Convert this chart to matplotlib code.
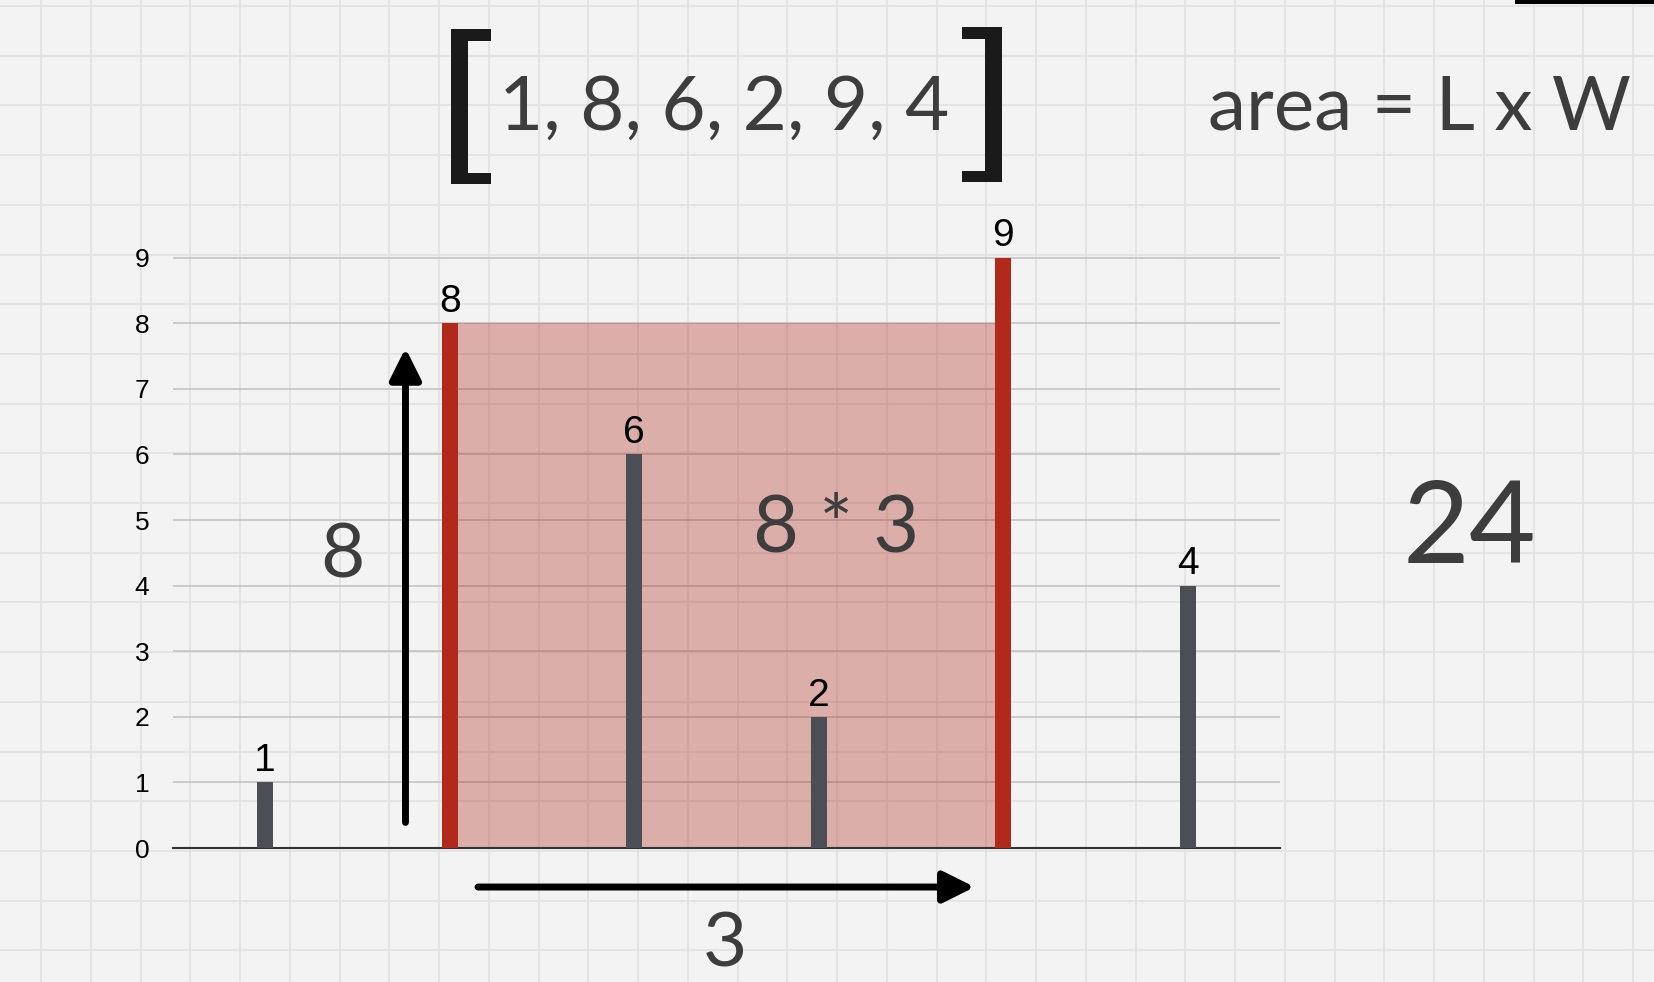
import numpy as np
import matplotlib.pyplot as plt
from matplotlib.patches import Rectangle, Polygon, FancyArrowPatch

# data
heights = [1, 8, 6, 2, 9, 4]
positions = list(range(len(heights)))
left_idx, right_idx = 1, 4
yticks = list(range(0, 10))

water = min(heights[left_idx], heights[right_idx])
span = right_idx - left_idx
area = water * span

# styles
bg = '#f3f3f3'
paper_line = '#e4e4e4'
red = '#b0291a'
gray = '#4b4e54'
soft = '#3d3d3d'
W, H = 1654, 982
big = dict(family=['Lato', 'DejaVu Sans'], fontweight='normal', color=soft)

plt.rcParams['font.family'] = ['Liberation Sans', 'DejaVu Sans']

fig = plt.figure(figsize=(W / 100, H / 100), dpi=100, facecolor=bg)

# squared paper background (pixel coords)
bgax = fig.add_axes([0, 0, 1, 1])
bgax.set_xlim(0, W)
bgax.set_ylim(H, 0)
bgax.axis('off')
for x in np.arange(41, W, 49.75):
    bgax.axvline(x, color=paper_line, lw=1.5, zorder=0)
for y in np.arange(6, H, 49.7):
    bgax.axhline(y, color=paper_line, lw=1.5, zorder=0)
bgax.add_patch(Rectangle((1515, 0), W - 1515, 4, color='black', lw=0))

# big brackets round the list
lb = [(451, 29), (491, 29), (491, 41), (468, 41), (468, 173), (491, 173), (491, 184), (451, 184)]
rb = [(1002, 27), (962, 27), (962, 39), (985, 39), (985, 171), (962, 171), (962, 182), (1002, 182)]
for pts in (lb, rb):
    bgax.add_patch(Polygon(pts, closed=True, color='#1a1a1a', lw=0))

fig.text(724 / W, 1 - 130 / H, ', '.join(str(h) for h in heights), fontsize=55,
         ha='center', va='baseline', **big)
fig.text(1208 / W, 1 - 130 / H, 'area = L x W', fontsize=55,
         ha='left', va='baseline', **big)
fig.text(1470 / W, 1 - 563 / H, str(area), fontsize=83,
         ha='center', va='baseline', **big)

# main chart
ax = fig.add_axes([173 / W, 134 / H, 1107 / W, 656 / H])
ax.set_facecolor('none')
ax.set_xlim(-0.5, 5.5)
ax.set_ylim(0, 10)
ax.set_yticks(yticks)
ax.yaxis.grid(True, color='#c4c4c4', lw=1.2)
ax.set_axisbelow(True)
for s in ['top', 'right', 'left']:
    ax.spines[s].set_visible(False)
ax.spines['bottom'].set_color('#333333')
ax.spines['bottom'].set_linewidth(1.5)
ax.tick_params(axis='y', length=0, pad=17, labelsize=19, labelcolor='black')
ax.tick_params(axis='x', length=0, labelbottom=False)

# container area
ax.add_patch(Rectangle((left_idx, 0), span, water, color=red, alpha=0.34, lw=0, zorder=1.5))

colors = [red if i in (left_idx, right_idx) else gray for i in positions]
ax.bar(positions, heights, width=0.088, color=colors, zorder=3)
for x, h in zip(positions, heights):
    ax.annotate(str(h), (x, h), xytext=(0, 8), textcoords='offset points',
                ha='center', va='baseline', fontsize=28, color='black')

# arrows for L and W
arrow_kw = dict(arrowstyle='-|>,head_length=19,head_width=9.5', mutation_scale=1,
                lw=5, color='black', shrinkA=0, shrinkB=0, clip_on=False, zorder=4)
ax.add_patch(FancyArrowPatch((0.76, 0.39), (0.76, 7.62), **arrow_kw))
ax.add_patch(FancyArrowPatch((1.153, -0.595), (3.845, -0.595), **arrow_kw))

ax.text(0.421, 4.13, str(water), fontsize=55, ha='center', va='baseline', **big)
ax.text(3.093, 4.52, f'{water} * {span}', fontsize=57, ha='center', va='baseline',
        zorder=5, **big)
ax.text(2.489, -1.81, str(span), fontsize=55, ha='center', va='baseline',
        clip_on=False, **big)

fig.savefig('out.png', dpi=100, facecolor=bg)
